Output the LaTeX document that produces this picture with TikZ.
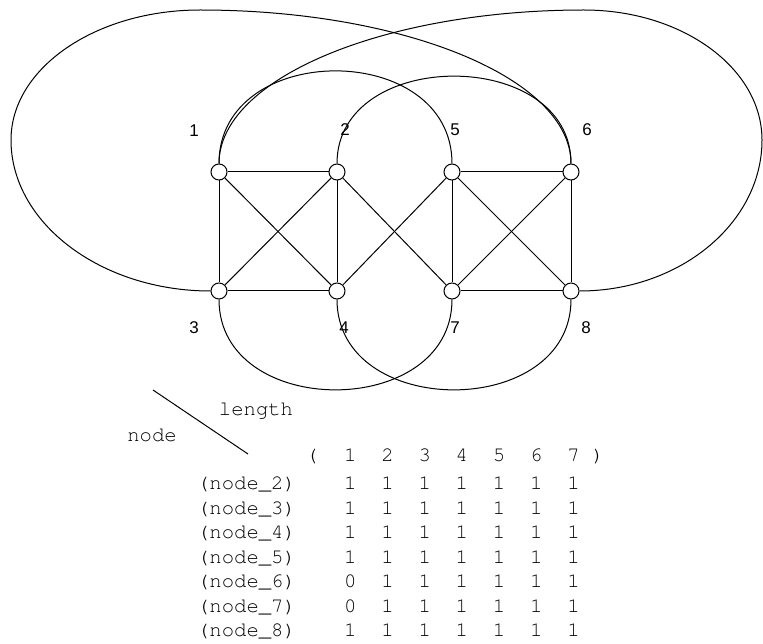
\documentclass[tikz,border=0pt]{standalone}
\usepackage[T1]{fontenc}
\usepackage{fontspec}
\setmainfont{Liberation Sans}
\usetikzlibrary{calc}
\tikzset{
  vtx/.style={draw, circle, fill=white, minimum size=16pt, inner sep=0pt,
              line width=1pt},
  vlbl/.style={font=\fontsize{17}{17}\selectfont, inner sep=0pt},
  mono/.style={font=\fontencoding{T1}\fontfamily{pcr}\fontsize{20.6}{20.6}\selectfont,
               inner sep=0pt},
  edge/.style={line width=1pt},
}

\begin{document}
\begin{tikzpicture}[x=1pt, y=-1pt]
  \useasboundingbox (0,0) rectangle (763,644);

  % vertices
  \node[vtx] (n1) at (219,172) {};
  \node[vtx] (n2) at (337,172) {};
  \node[vtx] (n5) at (452,172) {};
  \node[vtx] (n6) at (571,172) {};
  \node[vtx] (n3) at (219,291) {};
  \node[vtx] (n4) at (337,291) {};
  \node[vtx] (n7) at (452,291) {};
  \node[vtx] (n8) at (571,291) {};

  \node[vlbl] (l1) at (194,131) {1};
  \node[vlbl] (l2) at (345,130) {2};
  \node[vlbl] (l5) at (455,130) {5};
  \node[vlbl] (l6) at (587,130) {6};
  \node[vlbl] (l3) at (194,328) {3};
  \node[vlbl] (l4) at (344,328) {4};
  \node[vlbl] (l7) at (455,328) {7};
  \node[vlbl] (l8) at (586,328) {8};

  \foreach \a/\b in {1/2,1/3,1/4,2/3,2/4,3/4,2/7,4/5,5/6,5/7,5/8,6/7,6/8,7/8}
    \draw[edge] (n\a) -- (n\b);

  % arcs
  \draw[edge] (n1.north) .. controls (219,40) and (452,40) .. (n5.north);
  \draw[edge] (n2.north) .. controls (337,47) and (571,47) .. (n6.north);
  \draw[edge] (n3.south) .. controls (219,420) and (452,420) .. (n7.south);
  \draw[edge] (n4.south) .. controls (337,420) and (571,420) .. (n8.south);

  % big loops
  \draw[edge] (n3.west) .. controls (101,291) and (11,223) .. (11,140)
    .. controls (11,68) and (96,10) .. (200,10)
    .. controls (405,10) and (571,79) .. (n6.north);
  \draw[edge] (n1.north) .. controls (219,79) and (383,10) .. (584,10)
    .. controls (682,10) and (762,68) .. (762,140)
    .. controls (762,223) and (680,291) .. (n8.east);

  % table
  \coordinate (d0) at (153,390);
  \coordinate (d1) at (248,454);
  \draw[line width=1pt] (d0) -- (d1);
  \node[mono] (len) at (256,410) {length};
  \node[mono] (nd) at (152,435) {node};

  \node[mono, anchor=base] (hl) at (312,461.5) {(};
  \foreach \k in {1,...,7}
    \node[mono, anchor=base] (h\k) at (350.3+37.2*\k-37.2,461.5) {\k};
  \node[mono, anchor=base] (hr) at (598,461.5) {)};

  \foreach \r/\first [count=\i from 0] in {2/1,3/1,4/1,5/1,6/0,7/0,8/1} {
    \node[mono, anchor=base] (row\r) at (246.5,489.5+24.5*\i) {(node\_\r)};
    \node[mono, anchor=base] (c\r1) at (350.3,489.5+24.5*\i) {\first};
    \foreach \k in {2,...,7}
      \node[mono, anchor=base] (c\r\k) at (350.3+37.2*\k-37.2,489.5+24.5*\i) {1};
  }
\end{tikzpicture}
\end{document}
